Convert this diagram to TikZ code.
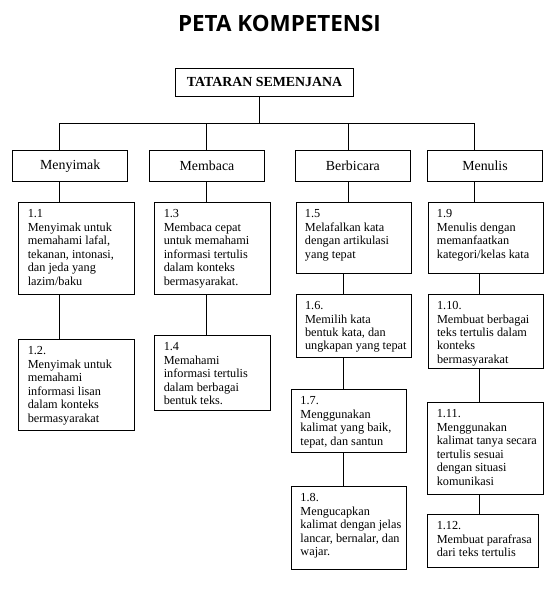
\documentclass[tikz,border=0pt]{standalone}
\usepackage{fontspec}
\setmainfont{Liberation Serif}
\newfontfamily\judulfont{Open Sans}
\usetikzlibrary{positioning}
\hfuzz=60pt
\vfuzz=20pt
% box text: [width]{height}{lines}
\newcommand{\isi}[3][73.1pt]{\begin{minipage}[t][#2][t]{#1}\begin{tabular}[t]{@{}l@{}}#3\end{tabular}\end{minipage}}

\begin{document}
\begin{tikzpicture}[
  x=0.75pt, y=-0.75pt, line width=0.7pt,
  judul/.style={font=\judulfont\bfseries\fontsize{16.8}{20}\selectfont},
  kepala/.style={draw, minimum width=133.5pt, minimum height=21pt, inner sep=0pt,
    font=\bfseries\fontsize{10.4}{12}\selectfont},
  kategori/.style={draw, minimum width=86.6pt, minimum height=23.8pt, inner sep=0pt,
    font=\fontsize{10.4}{12}\selectfont},
  kompetensi/.style={draw, anchor=north west, inner xsep=6.75pt, inner ysep=4.2pt,
    font=\fontsize{9.2}{10.12}\selectfont}
]
  \useasboundingbox (0,0) rectangle (553,603);

  % Title
  \node[judul] (judul) at (279.5,23.4) {PETA KOMPETENSI};

  % Top box
  \node[kepala] (tataran) at (264.5,82.3) {TATARAN SEMENJANA};

  % Skill boxes
  \node[kategori] (menyimak)  at (70.2,165.9)  {Menyimak};
  \node[kategori] (membaca)   at (207,165.9)   {Membaca};
  \node[kategori] (berbicara) at (352.9,165.9) {Berbicara};
  \node[kategori] (menulis)   at (485,165.9)   {Menulis};

  % Column lines
  \coordinate (bus)  at (259.5,123.5);
  \coordinate (kolA) at (59.3,0);
  \coordinate (kolB) at (206.3,0);
  \coordinate (kolC) at (348.6,0);
  \coordinate (kolCb) at (343.3,0);
  \coordinate (kolD) at (474.7,0);
  \coordinate (kolDb) at (479.3,0);

  % Menyimak
  \node[kompetensi] (k11) at (18.3,202.3) {\isi{60.4pt}{1.1\\Menyimak untuk\\memahami lafal,\\tekanan, intonasi,\\dan jeda yang\\lazim/baku}};
  \node[kompetensi] (k12) at (18.3,339.3) {\isi{59.9pt}{1.2.\\Menyimak untuk\\memahami\\informasi lisan\\dalam konteks\\bermasyarakat}};

  % Membaca
  \node[kompetensi] (k13) at (154.3,202.3) {\isi{60.4pt}{1.3\\Membaca cepat\\untuk memahami\\informasi tertulis\\dalam konteks\\bermasyarakat.}};
  \node[kompetensi] (k14) at (154.3,335.3) {\isi{47.9pt}{1.4\\Memahami\\informasi tertulis\\dalam berbagai\\bentuk teks.}};

  % Berbicara
  \node[kompetensi] (k15) at (295.5,202.3) {\isi{44.6pt}{1.5\\Melafalkan kata\\dengan artikulasi\\yang tepat}};
  \node[kompetensi] (k16) at (295.6,294)   {\isi{39.1pt}{1.6.\\Memilih kata\\bentuk kata, dan\\ungkapan yang tepat}};
  \node[kompetensi] (k17) at (291,389.3)   {\isi{38.4pt}{1.7.\\Menggunakan\\kalimat yang baik,\\tepat, dan santun}};
  \node[kompetensi] (k18) at (291,486)     {\isi{54.1pt}{1.8.\\Mengucapkan\\kalimat dengan jelas\\lancar, bernalar, dan\\wajar.}};

  % Menulis
  \node[kompetensi] (k19)  at (427.5,202.3) {\isi{44.6pt}{1.9\\Menulis dengan\\memanfaatkan\\kategori/kelas kata}};
  \node[kompetensi] (k110) at (427.6,294)   {\isi{47.3pt}{1.10.\\Membuat berbagai\\teks tertulis dalam\\konteks\\bermasyarakat}};
  \node[kompetensi] (k111) at (427.3,402.3) {\isi{60.6pt}{1.11.\\Menggunakan\\kalimat tanya secara\\tertulis sesuai\\dengan situasi\\komunikasi}};
  \node[kompetensi] (k112) at (427.3,514.3) {\isi[69.5pt]{31.35pt}{1.12.\\Membuat parafrasa\\dari teks tertulis}};

  % Tree lines
  \draw (bus |- tataran.south) -- (bus);
  \draw (kolA |- bus) -- (kolD |- bus);
  \foreach \k/\n in {kolA/menyimak, kolB/membaca, kolC/berbicara, kolD/menulis}
    \draw (\k |- bus) -- (\k |- \n.north);

  % Down the columns
  \foreach \k/\a/\b in {kolA/menyimak/k11, kolA/k11/k12, kolB/membaca/k13, kolB/k13/k14,
      kolC/berbicara/k15, kolCb/k15/k16, kolCb/k16/k17, kolCb/k17/k18,
      kolD/menulis/k19, kolDb/k19/k110, kolDb/k110/k111, kolDb/k111/k112}
    \draw (\k |- \a.south) -- (\k |- \b.north);
\end{tikzpicture}
\end{document}
